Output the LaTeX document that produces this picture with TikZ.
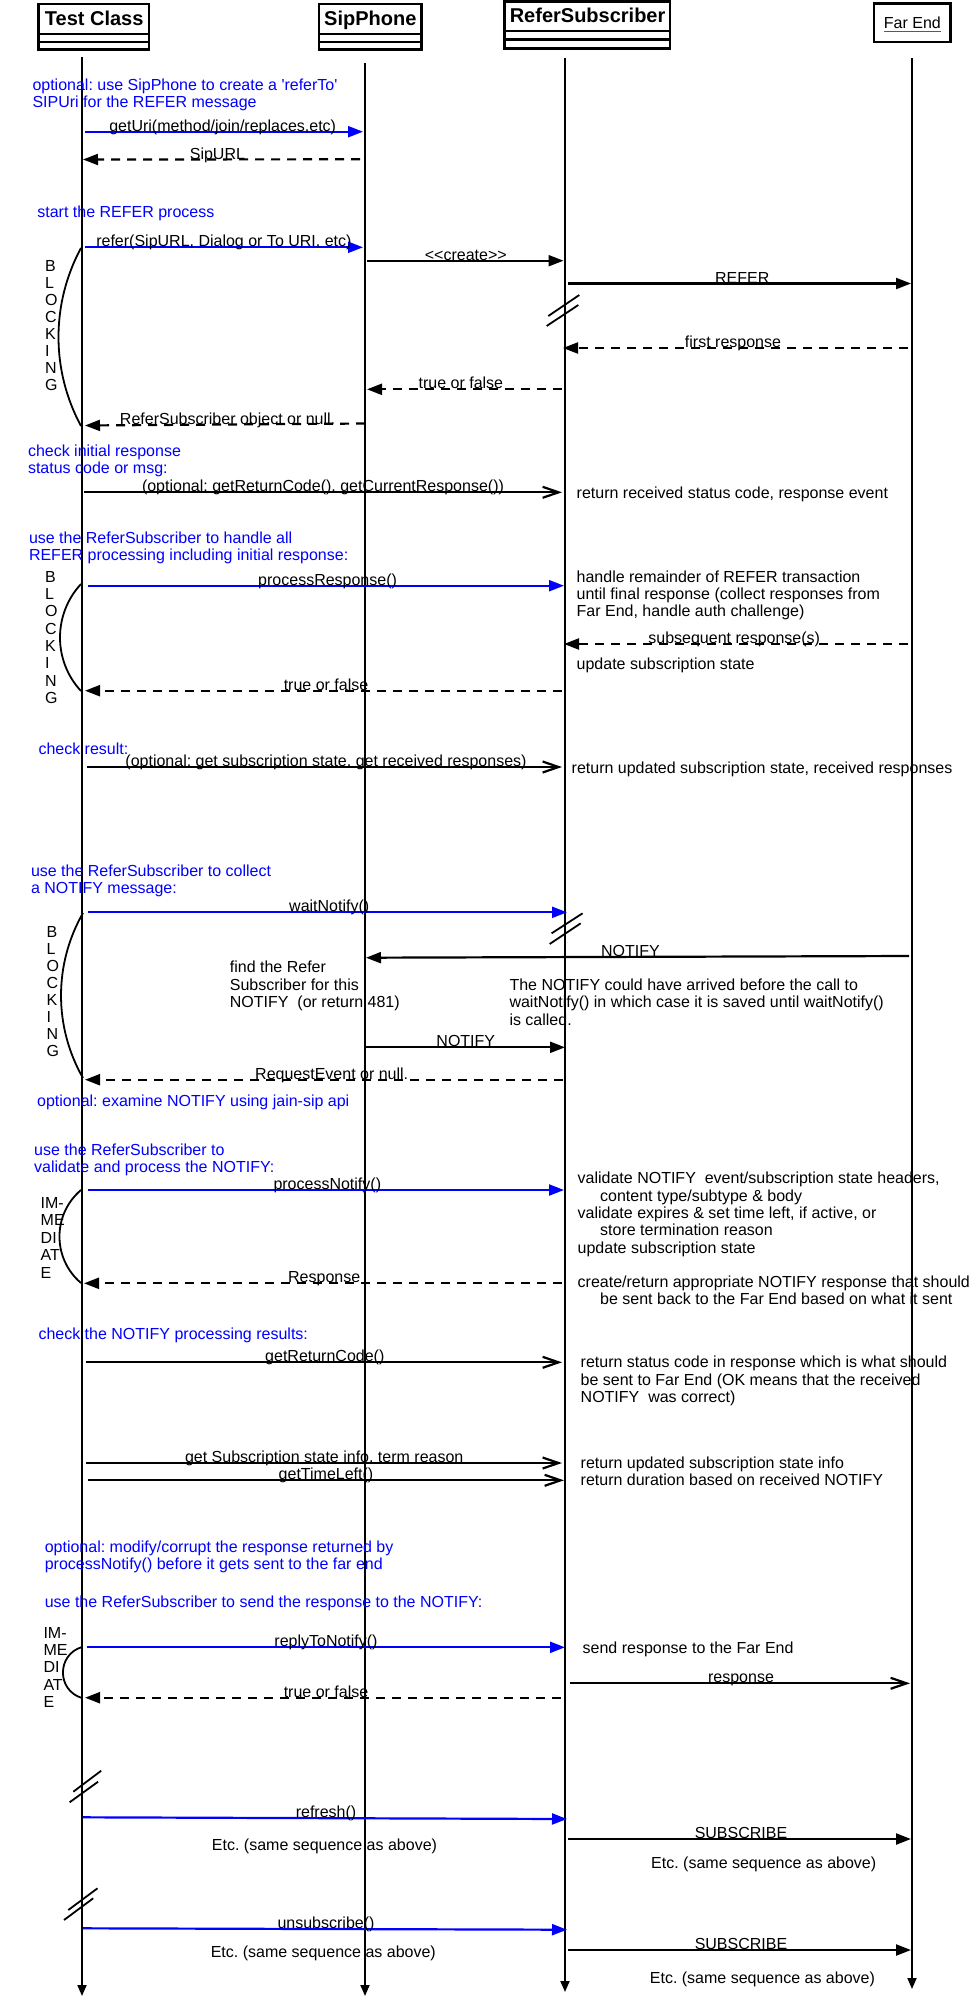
\documentclass[tikz,border=0pt]{standalone}
\usepackage{fontspec}
\newfontfamily\lsans{Liberation Sans}
\usetikzlibrary{arrows.meta}
\frenchspacing
\begin{document}
\begin{tikzpicture}[x=1pt,y=-1pt,
  every node/.style={inner sep=0pt,outer sep=0pt,font=\lsans\frenchspacing\fontsize{16}{17.3}\selectfont},
  hdrbox/.style={draw,line width=2.5pt,fill=white},
  hdrline/.style={line width=2.5pt},
  hdrtext/.style={font=\lsans\bfseries\fontsize{20}{24}\selectfont,anchor=base},
  life/.style={line width=1.8pt,-{Triangle[length=11pt,width=9pt]}},
  blu/.style={color=blue,line width=2.2pt,-{Triangle[length=15pt,width=11pt]}},
  syn/.style={line width=2.2pt,-{Triangle[length=15pt,width=11pt]}},
  ret/.style={line width=2.2pt,dash pattern=on 9pt off 7pt,-{Triangle[length=15pt,width=11pt]}},
  opn/.style={line width=2.2pt,-{Straight Barb[length=16pt,width=11pt]}},
  lbl/.style={anchor=base},
  note/.style={anchor=north west,align=left,text=blue},
  txt/.style={anchor=north west,align=left},
  etc/.style={anchor=north},
  vert/.style={anchor=north west,align=left},
  brk/.style={line width=1.8pt},
  arcl/.style={line width=1.8pt}]
\useasboundingbox (0,0) rectangle (973,2000);

% ---------- headers ----------
\node[hdrbox,minimum width=110.3pt,minimum height=45.7pt] (tcbox) at (93.65,26.85) {};
\draw[hdrline] (38.5,34) -- (148.8,34);
\draw[hdrline] (38.5,42) -- (148.8,42);
\node[hdrtext] (tctext) at (94.2,25.7) {Test Class};

\node[hdrbox,minimum width=102.3pt,minimum height=45.7pt] (spbox) at (370.15,26.85) {};
\draw[hdrline] (319,34) -- (421.3,34);
\draw[hdrline] (319,42) -- (421.3,42);
\node[hdrtext] (sptext) at (370.3,25.7) {SipPhone};

\node[hdrbox,minimum width=165.5pt,minimum height=46.6pt] (rsbox) at (587.45,25) {};
\draw[hdrline] (504.7,31) -- (670.2,31);
\draw[hdrline] (504.7,39.5) -- (670.2,39.5);
\node[hdrtext] (rstext) at (587.6,22.3) {ReferSubscriber};

\node[hdrbox,minimum width=76.4pt,minimum height=38.3pt] (febox) at (912.4,22.85) {};
\node[anchor=base] (fetext) at (912.4,28.8) {Far End};
\draw[line width=1.2pt,black!65] ([yshift=-3pt]fetext.base west) -- ([yshift=-3pt]fetext.base east);

% ---------- lifelines ----------
\coordinate (tcT) at (82,57);   \coordinate (tcB) at (82,1996);
\coordinate (spT) at (365,63);  \coordinate (spB) at (365,1996);
\coordinate (rsT) at (565,58);  \coordinate (rsB) at (565,1992);
\coordinate (feT) at (912,58);  \coordinate (feB) at (912,1989);
\draw[life] (tcT) -- (tcB);
\draw[life] (spT) -- (spB);
\draw[life] (rsT) -- (rsB);
\draw[life] (feT) -- (feB);

% ---------- break marks ----------
\draw[brk] (548.3,316) -- (579.3,295);
\draw[brk] (546.7,326) -- (578.3,305);
\draw[brk] (551.6,933.3) -- (582.6,913.3);
\draw[brk] (549.7,944) -- (580.7,923.3);
\draw[brk] (73.3,1791.7) -- (101.2,1770.7);
\draw[brk] (69.6,1802.3) -- (98.1,1781.7);
\draw[brk] (68.3,1910) -- (97.5,1888.3);
\draw[brk] (64,1920) -- (93.2,1898.3);

% ---------- blocking / immediate arcs ----------
\coordinate (b1t) at (81,248);   \coordinate (b1b) at (81,426);
\draw[arcl] (b1t) .. controls (51,303.6) and (51,370.4) .. (b1b);
\coordinate (b2t) at (81,584);   \coordinate (b2b) at (81,691);
\draw[arcl] (b2t) .. controls (53,614.2) and (53,660.8) .. (b2b);
\coordinate (b3t) at (83,913);   \coordinate (b3b) at (83,1078);
\draw[arcl] (b3t) .. controls (53.7,964.1) and (53.7,1026.9) .. (b3b);
\coordinate (i1t) at (81,1190);  \coordinate (i1b) at (81,1283);
\draw[arcl] (i1t) .. controls (52.3,1214.4) and (52.3,1258.6) .. (i1b);
\coordinate (i2t) at (82,1647);  \coordinate (i2b) at (82,1698);
\draw[arcl] (i2t) .. controls (56.6,1654.6) and (56.6,1690.4) .. (i2b);

\node[vert,font=\lsans\fontsize{16}{17.05}\selectfont] (v1) at (45,260) {B\\L\\O\\C\\K\\I\\N\\G};
\node[vert,font=\lsans\fontsize{16}{17.3}\selectfont] (v2) at (45,571.3) {B\\L\\O\\C\\K\\I\\N\\G};
\node[vert,font=\lsans\fontsize{16}{17.1}\selectfont] (v3) at (46.6,926) {B\\L\\O\\C\\K\\I\\N\\G};
\node[vert,font=\lsans\fontsize{16}{17.35}\selectfont] (v4) at (40.7,1197.6) {IM-\\ME\\DI\\AT\\E};
\node[vert,font=\lsans\fontsize{16}{17.4}\selectfont] (v5) at (43.5,1627) {IM-\\ME\\DI\\AT\\E};

% ---------- messages ----------
\coordinate (m1s) at (85,131.7);   \coordinate (m1e) at (363,131.7);
\draw[blu] (m1s) -- (m1e);
\node[lbl] (l1) at (222.7,131) {getUri(method/join/replaces,etc)};

\coordinate (m2s) at (360,159.3);  \coordinate (m2e) at (83,159.5);
\draw[ret] (m2s) -- (m2e);
\node[lbl] (l2) at (217.4,159) {SipURL};

\coordinate (m3s) at (85,247.3);   \coordinate (m3e) at (363,247.3);
\draw[blu] (m3s) -- (m3e);
\node[lbl] (l3) at (223.9,246.8) {refer(SipURL, Dialog or To URI, etc)};

\coordinate (m4s) at (367,260.7);  \coordinate (m4e) at (563.5,260.7);
\draw[syn] (m4s) -- (m4e);
\node[lbl] (l4) at (465.8,260.2) {<{}<create>{}>};

\coordinate (m5s) at (568,283.5);  \coordinate (m5e) at (911,283.5);
\draw[syn] (m5s) -- (m5e);
\node[lbl] (l5) at (742.2,283) {REFER};

\coordinate (m6s) at (908,348);    \coordinate (m6e) at (563,348);
\draw[ret] (m6s) -- (m6e);
\node[lbl] (l6) at (733,347.5) {first response};

\coordinate (m7s) at (562,389.3);  \coordinate (m7e) at (367,389.3);
\draw[ret] (m7s) -- (m7e);
\node[lbl] (l7) at (460.9,388.8) {true or false};

\coordinate (m8s) at (365,423.5);  \coordinate (m8e) at (85,425.5);
\draw[ret] (m8s) -- (m8e);
\node[lbl] (l8) at (227.6,424) {ReferSubscriber object or null.};

\coordinate (m9s) at (84,492.3);   \coordinate (m9e) at (562,492.3);
\draw[opn] (m9s) -- (m9e);
\node[lbl] (l9) at (323,491.8) {(optional: getReturnCode(), getCurrentResponse())};

\coordinate (m10s) at (88,585.7);  \coordinate (m10e) at (564,585.7);
\draw[blu] (m10s) -- (m10e);
\node[lbl] (l10) at (327.6,585.2) {processResponse()};

\coordinate (m11s) at (908,644);   \coordinate (m11e) at (564,644);
\draw[ret] (m11s) -- (m11e);
\node[lbl] (l11) at (734.2,643.5) {subsequent response(s)};

\coordinate (m12s) at (562,690.7); \coordinate (m12e) at (85,690.7);
\draw[ret] (m12s) -- (m12e);
\node[lbl] (l12) at (326,690.2) {true or false};

\coordinate (m13s) at (87,767);    \coordinate (m13e) at (562,767);
\draw[opn] (m13s) -- (m13e);
\node[lbl] (l13) at (326,766.5) {(optional: get subscription state, get received responses)};

\coordinate (m14s) at (88,912.3);  \coordinate (m14e) at (567,912.3);
\draw[blu] (m14s) -- (m14e);
\node[lbl] (l14) at (329.2,911.8) {waitNotify()};

\coordinate (m15s) at (909,956);   \coordinate (m15e) at (366,957.7);
\draw[syn] (m15s) -- (m15e);
\node[lbl] (l15) at (630.4,956.3) {NOTIFY};

\coordinate (m16s) at (366,1047.3); \coordinate (m16e) at (565,1047.3);
\draw[syn] (m16s) -- (m16e);
\node[lbl] (l16) at (465.8,1046.8) {NOTIFY};

\coordinate (m17s) at (563,1079.7); \coordinate (m17e) at (85,1079.7);
\draw[ret] (m17s) -- (m17e);
\node[lbl] (l17) at (331.7,1079.2) {RequestEvent or null.};

\coordinate (m18s) at (88,1190);   \coordinate (m18e) at (564,1190);
\draw[blu] (m18s) -- (m18e);
\node[lbl] (l18) at (327.3,1189.5) {processNotify()};

\coordinate (m19s) at (562,1283.3); \coordinate (m19e) at (84,1283.3);
\draw[ret] (m19s) -- (m19e);
\node[lbl] (l19) at (324.2,1282.8) {Response};

\coordinate (m20s) at (86,1362.3); \coordinate (m20e) at (562,1362.3);
\draw[opn] (m20s) -- (m20e);
\node[lbl] (l20) at (324.8,1361.8) {getReturnCode()};

\coordinate (m21s) at (86,1463);   \coordinate (m21e) at (562,1463);
\draw[opn] (m21s) -- (m21e);
\node[lbl] (l21) at (324.2,1462.5) {get Subscription state info, term reason};

\coordinate (m22s) at (88,1480.3); \coordinate (m22e) at (564,1480.3);
\draw[opn] (m22s) -- (m22e);
\node[lbl] (l22) at (326,1479.8) {getTimeLeft()};

\coordinate (m23s) at (87,1647.3); \coordinate (m23e) at (565,1647.3);
\draw[blu] (m23s) -- (m23e);
\node[lbl] (l23) at (326,1646.8) {replyToNotify()};

\coordinate (m24s) at (570,1683.3); \coordinate (m24e) at (910,1683.3);
\draw[opn] (m24s) -- (m24e);
\node[lbl] (l24) at (741,1682.8) {response};

\coordinate (m25s) at (561,1697.7); \coordinate (m25e) at (85,1697.7);
\draw[ret] (m25s) -- (m25e);
\node[lbl] (l25) at (326,1697.2) {true or false};

\coordinate (m26s) at (83,1817.3); \coordinate (m26e) at (567,1819);
\draw[blu] (m26s) -- (m26e);
\node[lbl] (l26) at (326,1817.6) {refresh()};

\coordinate (m27s) at (568,1839);  \coordinate (m27e) at (911,1839);
\draw[syn] (m27s) -- (m27e);
\node[lbl] (l27) at (741,1838.5) {SUBSCRIBE};

\coordinate (m28s) at (83,1928.3); \coordinate (m28e) at (567,1929.7);
\draw[blu] (m28s) -- (m28e);
\node[lbl] (l28) at (326,1928.5) {unsubscribe()};

\coordinate (m29s) at (568,1950);  \coordinate (m29e) at (911,1950);
\draw[syn] (m29s) -- (m29e);
\node[lbl] (l29) at (741,1949.5) {SUBSCRIBE};

% ---------- blue notes ----------
\node[note] (n1) at (32.5,79) {optional: use SipPhone to create a 'referTo'\\SIPUri for the REFER message};
\node[note] (n2) at (37.4,205.7) {start the REFER process};
\node[note] (n3) at (28,445) {check initial response\\status code or msg:};
\node[note] (n4) at (29,531.7) {use the ReferSubscriber to handle all\\REFER processing including initial response:};
\node[note] (n5) at (38.5,743) {check result:};
\node[note] (n6) at (31,864.7) {use the ReferSubscriber to collect\\a NOTIFY message:};
\node[note] (n7) at (37.2,1094.7) {optional: examine NOTIFY using jain-sip api};
\node[note] (n8) at (34.2,1144) {use the ReferSubscriber to\\validate and process the NOTIFY:};
\node[note] (n9) at (38.5,1328.3) {check the NOTIFY processing results:};
\node[note] (n10) at (44.8,1540.7) {optional: modify/corrupt the response returned by\\processNotify() before it gets sent to the far end};
\node[note] (n11) at (44.8,1595.7) {use the ReferSubscriber to send the response to the NOTIFY:};

% ---------- black texts ----------
\node[txt] (t1) at (576.7,486.7) {return received status code, response event};
\node[txt] (t2) at (576.7,570.7) {handle remainder of REFER transaction\\until final response (collect responses from\\Far End, handle auth challenge)};
\node[txt] (t3) at (576.7,658) {update subscription state};
\node[txt] (t4) at (571.7,761.7) {return updated subscription state, received responses};
\node[txt] (t5) at (229.9,961.3) {find the Refer\\Subscriber for this\\NOTIFY\ \ (or return 481)};
\node[txt] (t6) at (509.5,979) {The NOTIFY could have arrived before the call to\\waitNotify() in which case it is saved until waitNotify()\\is called.};
\node[txt] (t7) at (577.7,1172.3) {validate NOTIFY\ \ event/subscription state headers,\\\hspace*{22.5pt}content type/subtype \& body\\validate expires \& set time left, if active, or\\\hspace*{22.5pt}store termination reason\\update subscription state};
\node[txt] (t8) at (577.7,1275.7) {create/return appropriate NOTIFY response that should\\\hspace*{22.5pt}be sent back to the Far End based on what it sent};
\node[txt] (t9) at (580.7,1356.3) {return status code in response which is what should\\be sent to Far End (OK means that the received\\NOTIFY\ \ was correct)};
\node[txt] (t10) at (580.7,1456.7) {return updated subscription state info\\return duration based on received NOTIFY};
\node[txt] (t11) at (582.7,1642.3) {send response to the Far End};

\node[etc] (e1) at (324.5,1839) {Etc. (same sequence as above)};
\node[etc] (e2) at (763.7,1856.7) {Etc. (same sequence as above)};
\node[etc] (e3) at (323.3,1945.7) {Etc. (same sequence as above)};
\node[etc] (e4) at (762.4,1972.3) {Etc. (same sequence as above)};
\end{tikzpicture}
\end{document}
